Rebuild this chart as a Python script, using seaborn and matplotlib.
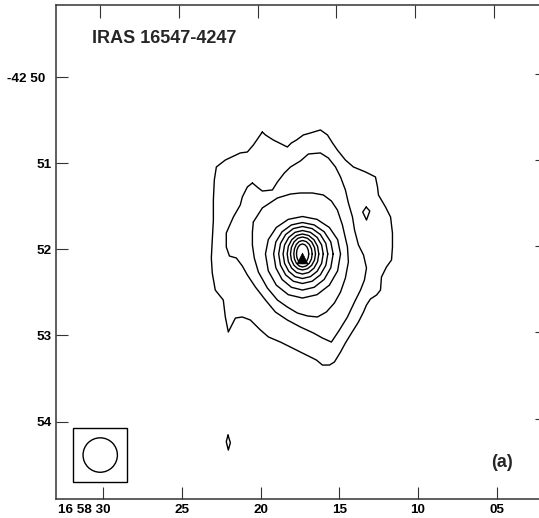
import numpy as np
import pandas as pd
import matplotlib
matplotlib.use("Agg")
import matplotlib.pyplot as plt
from matplotlib.patches import Rectangle, Ellipse
from matplotlib.transforms import ScaledTranslation
import seaborn as sns

# Right ascension in seconds of time past 16h58m, declination in arcmin past -42 deg
ra_ticks = [30, 25, 20, 15, 10, 5]
ra_labels = ["16 58 30", "25", "20", "15", "10", "05"]
dec_ticks = [50, 51, 52, 53, 54]
dec_labels = ["-42 50", "51", "52", "53", "54"]

# Outer contour levels traced as closed outlines
c1_ra = [19.89, 19.69, 19.19, 18.55, 18.30, 18.04, 17.72, 17.28, 16.83, 16.20,
         15.75, 15.43, 15.12, 14.61, 14.10, 13.33, 12.70, 12.57, 12.51, 12.06,
         11.74, 11.62, 11.62, 11.68, 12.00, 12.32, 12.38, 12.63, 13.02, 13.27,
         13.46, 13.78, 14.22, 14.61, 14.92, 15.31, 15.62, 16.07, 16.45, 16.96,
         17.47, 18.10, 18.74, 19.50, 20.01, 20.65, 21.16, 21.60, 22.05, 22.24,
         22.37, 22.88, 23.07, 23.13, 23.07, 23.00, 23.00, 22.94, 22.81, 22.24,
         21.29, 20.84, 20.46, 19.89]
c1_dec = [50.638, 50.672, 50.731, 50.789, 50.812, 50.765, 50.731, 50.672, 50.649, 50.614,
          50.672, 50.765, 50.847, 50.963, 51.044, 51.102, 51.160, 51.276, 51.369, 51.509,
          51.625, 51.811, 51.973, 52.124, 52.205, 52.322, 52.473, 52.531, 52.577, 52.647,
          52.728, 52.844, 52.972, 53.088, 53.193, 53.309, 53.344, 53.344, 53.286, 53.239,
          53.193, 53.135, 53.077, 53.018, 52.937, 52.821, 52.786, 52.798, 52.960, 52.786,
          52.589, 52.473, 52.275, 52.101, 51.892, 51.660, 51.427, 51.195, 51.044, 50.963,
          50.881, 50.870, 50.789, 50.638]

c2_ra = [20.52, 20.14, 19.89, 19.25, 18.93, 18.49, 18.10, 17.47, 16.96, 16.20,
         15.69, 15.24, 14.92, 14.61, 14.42, 14.16, 14.03, 13.78, 13.46, 13.27,
         13.40, 13.65, 14.03, 14.48, 14.99, 15.50, 16.07, 16.64, 17.47, 18.30,
         19.06, 19.69, 20.33, 20.84, 21.16, 21.54, 21.98, 22.18, 22.18, 21.73,
         21.29, 21.16, 20.84, 20.52]
c2_dec = [51.230, 51.288, 51.323, 51.311, 51.218, 51.114, 51.044, 50.974, 50.893, 50.881,
          50.940, 51.044, 51.160, 51.311, 51.462, 51.625, 51.776, 51.950, 52.066, 52.217,
          52.356, 52.473, 52.612, 52.786, 52.937, 53.077, 53.030, 52.972, 52.902, 52.821,
          52.728, 52.589, 52.438, 52.298, 52.194, 52.101, 52.078, 51.973, 51.811, 51.625,
          51.485, 51.392, 51.276, 51.230]

c3_ra = [20.46, 19.89, 18.93, 18.10, 17.47, 16.71, 16.01, 15.50, 15.12, 14.80,
         14.48, 14.42, 14.61, 14.92, 15.31, 15.82, 16.39, 17.02, 17.66, 18.30,
         18.93, 19.57, 20.14, 20.40, 20.52, 20.52, 20.46]
c3_dec = [51.683, 51.520, 51.404, 51.358, 51.346, 51.346, 51.369, 51.439, 51.543, 51.718,
          51.973, 52.147, 52.333, 52.496, 52.624, 52.728, 52.786, 52.774, 52.740, 52.670,
          52.589, 52.449, 52.264, 52.101, 51.950, 51.799, 51.683]

# Small isolated contours
isl1_ra = [13.29, 13.06, 13.27, 13.51, 13.29]
isl1_dec = [51.509, 51.555, 51.660, 51.567, 51.509]
isl2_ra = [22.07, 21.92, 22.05, 22.18, 22.07]
isl2_dec = [54.157, 54.246, 54.331, 54.234, 54.157]

# Inner, nearly concentric levels: east / west / north / south edges (innermost first)
ring_ra_east = [17.72, 17.89, 18.10, 18.31, 18.57, 18.85, 19.17, 19.69]
ring_ra_west = [16.94, 16.72, 16.51, 16.30, 16.02, 15.73, 15.39, 14.92]
ring_dec_north = [51.938, 51.898, 51.857, 51.822, 51.782, 51.735, 51.689, 51.619]
ring_dec_south = [52.165, 52.205, 52.240, 52.287, 52.339, 52.397, 52.473, 52.566]
ring_ra0, ring_dec0 = 17.34, 52.054

# Peak position and restoring beam (arcsec)
peak_ra, peak_dec = [17.35], [52.10]
beam_ra, beam_dec = 30.19, 54.389
beam_arcsec = 24.0
beam_box_arcsec = 38.0
cos_dec = np.cos(np.radians(42 + 52 / 60))

pieces = [(c1_ra, c1_dec), (c2_ra, c2_dec), (c3_ra, c3_dec),
          (isl1_ra, isl1_dec), (isl2_ra, isl2_dec)]

# the map grid is coarse, so the inner levels come out as 16-sided outlines
t = np.linspace(0, 2 * np.pi, 17)
u, v = np.cos(t), np.sin(t)
for e, w, n, s in zip(ring_ra_east, ring_ra_west, ring_dec_north, ring_dec_south):
    ra = ring_ra0 + np.where(u < 0, -u * (e - ring_ra0), u * (w - ring_ra0))
    dec = ring_dec0 + np.where(v < 0, -v * (n - ring_dec0), v * (s - ring_dec0))
    pieces.append((list(ra), list(dec)))

rows = []
for k, (ra, dec) in enumerate(pieces):
    for i, (a, d) in enumerate(zip(ra, dec)):
        rows.append({"ra": a, "dec": d, "level": k, "step": i})
df = pd.DataFrame(rows)

sns.set_theme(style="white")
plt.rcParams["font.family"] = ["Liberation Sans", "DejaVu Sans"]
plt.rcParams["font.weight"] = "bold"

fig = plt.figure(figsize=(5.39, 5.18), dpi=100)
ax = fig.add_axes([56 / 539, (518 - 498.7) / 518, (547 - 56) / 539, (498.7 - 5) / 518])

sns.lineplot(data=df, x="ra", y="dec", units="level", estimator=None, sort=False,
             color="black", linewidth=1.0, ax=ax, legend=False)
sns.scatterplot(x=peak_ra, y=peak_dec, marker="^", s=60, color="black",
                edgecolor="black", linewidth=0.5, ax=ax, legend=False, zorder=5)

# Beam in the lower-left corner
bw = beam_arcsec / (15 * cos_dec)
bh = beam_arcsec / 60
ax.add_patch(Ellipse((beam_ra, beam_dec), bw, bh, fill=False, ec="black", lw=1.0))
xw = beam_box_arcsec / (15 * cos_dec)
xh = beam_box_arcsec / 60
ax.add_patch(Rectangle((beam_ra - xw / 2, beam_dec - xh / 2), xw, xh,
                       fill=False, ec="black", lw=1.0))

ax.set_xlim(33.0, 1.8)
ax.set_ylim(54.896, 49.163)
ax.set_xlabel("")
ax.set_ylabel("")

frame = "#333333"
for sp in ax.spines.values():
    sp.set_color(frame)
    sp.set_linewidth(1.1)

ax.set_xticks(ra_ticks)
ax.set_xticklabels(ra_labels)
ax.set_yticks(dec_ticks)
ax.set_yticklabels(dec_labels)
ax.tick_params(axis="both", direction="in", length=8.8, width=0.8, color=frame,
               labelsize=9.7, labelcolor="black")
ax.tick_params(axis="x", pad=3.5, bottom=True)
ax.tick_params(axis="y", pad=3.0, left=True)
for lab in ax.get_xticklabels() + ax.get_yticklabels():
    lab.set_fontweight("bold")

first_x = ax.get_xticklabels()[0]
first_x.set_ha("right")
first_x.set_transform(first_x.get_transform() + ScaledTranslation(0.07, 0, fig.dpi_scale_trans))
first_y = ax.get_yticklabels()[0]
first_y.set_transform(first_y.get_transform() + ScaledTranslation(-0.07, 0, fig.dpi_scale_trans))

# Ticks along the top and right follow the slightly curved coordinate grid
top = ax.secondary_xaxis("top", functions=(lambda x: x - 0.19, lambda x: x + 0.19))
top.set_xticks(ra_ticks)
top.tick_params(direction="in", length=9.4, width=0.8, color=frame, labeltop=False)
top.spines["top"].set_visible(False)
right = ax.secondary_yaxis("right", functions=(lambda y: y + 0.035, lambda y: y - 0.035))
right.set_yticks(dec_ticks)
right.tick_params(direction="in", length=8.8, width=0.8, color=frame, labelright=False)
right.spines["right"].set_visible(False)

ax.text(0.0733, 0.9224, "IRAS 16547-4247", transform=ax.transAxes, ha="left",
        va="baseline", fontsize=13, fontweight="bold")
ax.text(0.887, 0.0743, "(a)", transform=ax.transAxes, ha="left", va="center",
        fontsize=13, fontweight="bold")

fig.savefig("out.png", dpi=100)
